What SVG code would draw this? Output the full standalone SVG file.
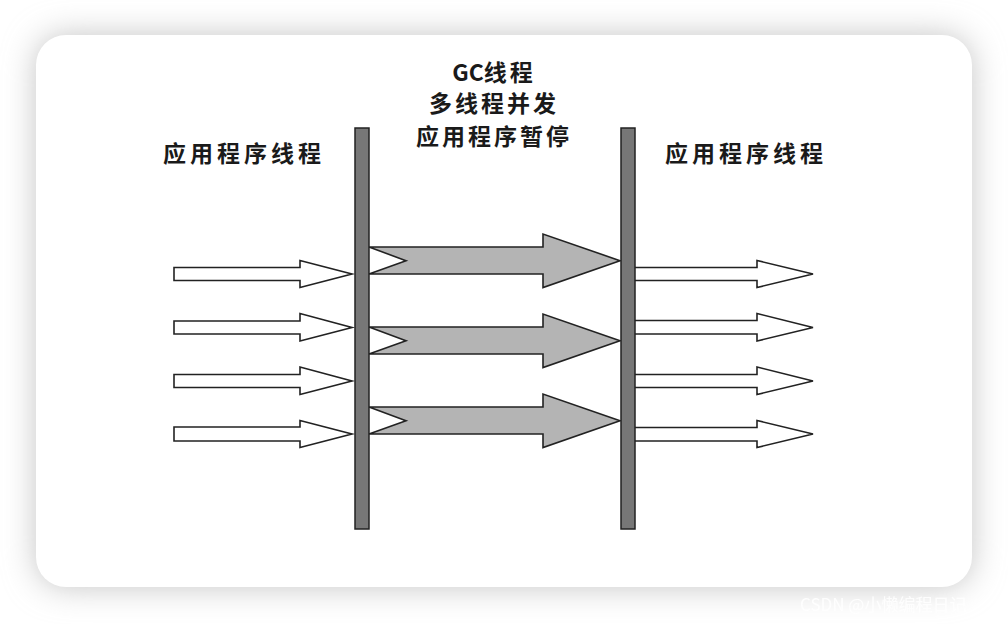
<svg xmlns="http://www.w3.org/2000/svg" width="1008" height="624" viewBox="0 0 1008 624">
<defs>
<filter id="sh" x="-20%" y="-20%" width="140%" height="140%"><feGaussianBlur stdDeviation="16"/></filter>
<style>
.lbl{font-family:"Noto Sans CJK SC","Liberation Sans",sans-serif;font-size:23px;font-weight:bold;fill:#1a1a1a;letter-spacing:4px}
.mid{font-family:"Noto Sans CJK SC","Liberation Sans",sans-serif;font-size:23px;font-weight:bold;fill:#1a1a1a;text-anchor:middle;letter-spacing:3px}
.gc{letter-spacing:0px}
.bar{fill:#777;stroke:#222;stroke-width:1.5}
.wa{fill:#fff;stroke:#222;stroke-width:1.6;stroke-linejoin:miter}
.ga{fill:#b4b4b4;stroke:#222;stroke-width:1.6}
.wm{font-family:"Noto Sans CJK SC","Liberation Sans",sans-serif;font-size:17px;fill:#ffffff;opacity:0.9}
</style>
</defs>
<rect width="1008" height="624" fill="#ffffff"/>
<rect x="36" y="35" width="936" height="552" rx="30" fill="#c4c4c4" filter="url(#sh)"/>
<rect x="36" y="35" width="936" height="552" rx="30" fill="#ffffff"/>

<g id="connectors">
  <g id="left-arrows">
    <path class="wa" d="M174,267.5 H300 V260.5 L352,274 L300,287.5 V280.5 H174 Z"/>
    <path class="wa" d="M174,321 H300 V313.5 L352,327.5 L300,341 V334 H174 Z"/>
    <path class="wa" d="M174,374.5 H300 V367 L352,381 L300,394.5 V387.5 H174 Z"/>
    <path class="wa" d="M174,427 H300 V420.5 L352,434 L300,447.5 V441 H174 Z"/>
  </g>
  <g id="gc-arrows">
    <path class="ga" d="M369,247 H543 V234 L620,260.7 L543,287.5 V274 H369 L406,260.7 Z"/>
    <path class="ga" d="M369,327 H543 V314 L620,340.7 L543,367.5 V354 H369 L406,340.7 Z"/>
    <path class="ga" d="M369,407 H543 V394 L620,420.7 L543,447.5 V434 H369 L406,420.7 Z"/>
  </g>
  <g id="right-arrows">
    <path class="wa" d="M635,267.5 H757 V260.5 L813,274 L757,287.5 V280.5 H635"/>
    <path class="wa" d="M635,320.5 H757 V313.5 L813,327.5 L757,341 V334 H635"/>
    <path class="wa" d="M635,374.5 H757 V367 L813,381 L757,394.5 V387.5 H635"/>
    <path class="wa" d="M635,427.5 H757 V420.5 L813,434 L757,447.5 V441 H635"/>
  </g>
</g>

<g id="left-bar"><rect class="bar" x="355" y="128" width="14" height="401"/></g>
<g id="right-bar"><rect class="bar" x="621" y="128" width="14" height="401"/></g>

<g id="left-label"><text class="lbl" x="163" y="162">应用程序线程</text></g>
<g id="right-label"><text class="lbl" x="665" y="162">应用程序线程</text></g>
<g id="gc-label">
  <text class="mid" x="494" y="81"><tspan class="gc">GC</tspan>线程</text>
  <text class="mid" x="494" y="112">多线程并发</text>
  <text class="mid" x="494" y="145">应用程序暂停</text>
</g>
<text class="wm" x="800" y="611">CSDN @小懒编程日记</text>
</svg>
